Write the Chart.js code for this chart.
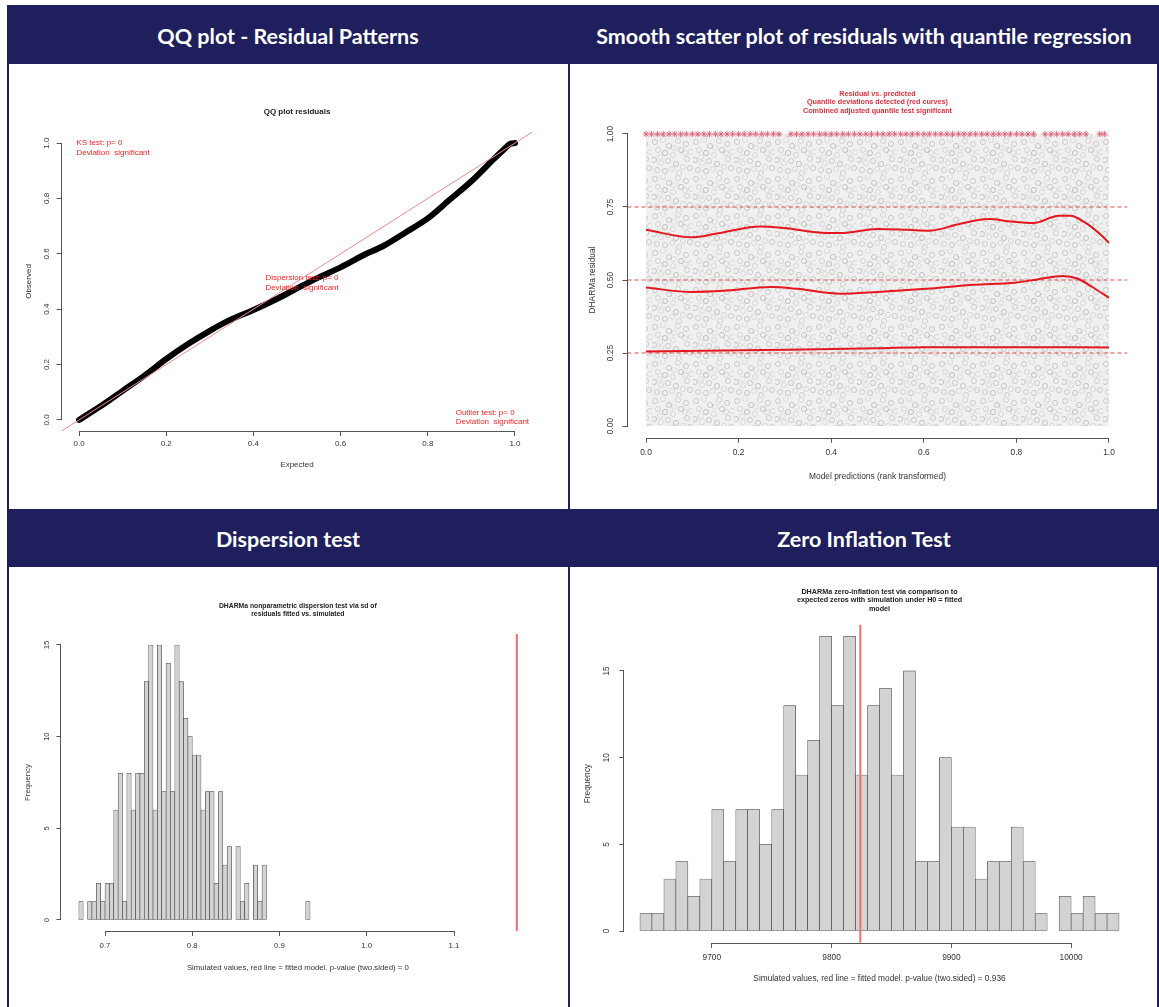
<!DOCTYPE html>
<html>
<head>
<meta charset="utf-8">
<script src="https://cdn.jsdelivr.net/npm/chart.js@4.4.1/dist/chart.umd.min.js"></script>
<style>
  body { margin: 0; width: 1159px; height: 1007px; overflow: hidden; position: relative; background: #fff; }
  .frame { position: absolute; left: 7px; top: 5px; width: 1152px; height: 1002px; background: #1f1f5e; }
  .head { position: absolute; color: #fff; font: bold 21.5px Lato, sans-serif; display: flex; align-items: center; justify-content: center; padding-top: 2px; box-sizing: border-box; }
  .box { position: absolute; background: #fff; }
</style>
</head>
<body>
<div class="frame"></div>
<div class="head" style="left:7px;top:5px;width:562px;height:59px">QQ plot - Residual Patterns</div>
<div class="head" style="left:569px;top:5px;width:590px;height:59px">Smooth scatter plot of residuals with quantile regression</div>
<div class="head" style="left:7px;top:509px;width:562px;height:58px">Dispersion test</div>
<div class="head" style="left:569px;top:509px;width:590px;height:58px">Zero Inflation Test</div>
<div class="box" style="left:9px;top:64px;width:559px;height:445px"><canvas id="qq"></canvas></div>
<div class="box" style="left:570px;top:64px;width:587px;height:445px"><canvas id="resid"></canvas></div>
<div class="box" style="left:9px;top:567px;width:559px;height:440px"><canvas id="disp"></canvas></div>
<div class="box" style="left:570px;top:567px;width:587px;height:440px"><canvas id="zero"></canvas></div>
<script>
// ---- QQ plot residuals
const qqExpected = [0, 0.05, 0.1, 0.15, 0.2, 0.25, 0.3, 0.35, 0.4, 0.45, 0.5, 0.55, 0.6, 0.65, 0.7, 0.75, 0.8, 0.85, 0.9, 0.95, 0.975, 0.99, 1];
const qqObserved = [0, 0.05, 0.105, 0.16, 0.22, 0.274, 0.322, 0.364, 0.397, 0.434, 0.475, 0.515, 0.551, 0.593, 0.63, 0.678, 0.728, 0.795, 0.862, 0.94, 0.978, 0.998, 1];
const unitTicks = [0, 0.2, 0.4, 0.6, 0.8, 1];
const unitLabels = ['0.0', '0.2', '0.4', '0.6', '0.8', '1.0'];

// ---- residual vs predicted
const residCloudX = [0, 1];
const residCloudY = [1, 1];
const outlierX = [0, 0.012, 0.025, 0.037, 0.05, 0.062, 0.075, 0.087, 0.1, 0.112, 0.125, 0.137, 0.15, 0.162, 0.175, 0.187, 0.2, 0.212, 0.225, 0.237, 0.25, 0.262, 0.275, 0.287,
  0.313, 0.325, 0.337, 0.35, 0.362, 0.375, 0.387, 0.4, 0.412, 0.425, 0.437, 0.45, 0.462, 0.475, 0.487, 0.5, 0.512, 0.525, 0.537, 0.55, 0.562, 0.575, 0.587, 0.6, 0.612,
  0.625, 0.637, 0.65, 0.662, 0.675, 0.687, 0.7, 0.712, 0.725, 0.737, 0.75, 0.762, 0.775, 0.787, 0.8, 0.812, 0.825, 0.837, 0.862, 0.875, 0.887, 0.9, 0.912, 0.925,
  0.937, 0.95, 0.98, 0.99];
const q75X = [0, 0.1, 0.15, 0.246, 0.298, 0.39, 0.42, 0.5, 0.565, 0.613, 0.677, 0.741, 0.789, 0.837, 0.892, 0.916, 0.948, 0.98, 1];
const q75Y = [0.672, 0.646, 0.658, 0.683, 0.678, 0.661, 0.661, 0.675, 0.672, 0.669, 0.692, 0.709, 0.7, 0.695, 0.72, 0.72, 0.697, 0.658, 0.627];
const q50X = [0, 0.1, 0.167, 0.27, 0.326, 0.42, 0.5, 0.605, 0.709, 0.797, 0.845, 0.9, 0.932, 0.964, 1];
const q50Y = [0.474, 0.459, 0.463, 0.476, 0.47, 0.453, 0.459, 0.47, 0.484, 0.491, 0.502, 0.514, 0.505, 0.476, 0.439];
const q25X = [0, 0.25, 0.5, 0.6, 0.8, 1];
const q25Y = [0.255, 0.26, 0.266, 0.27, 0.27, 0.269];
const quantileLevels = [0.25, 0.5, 0.75];
const residTicks = [0, 0.25, 0.5, 0.75, 1];
const residLabels = ['0.00', '0.25', '0.50', '0.75', '1.00'];

// ---- dispersion test
const dispBreaks = [0.67, 0.675, 0.68, 0.685, 0.69, 0.695, 0.7, 0.705, 0.71, 0.715, 0.72, 0.725, 0.73, 0.735, 0.74, 0.745, 0.75, 0.755, 0.76, 0.765,
  0.77, 0.775, 0.78, 0.785, 0.79, 0.795, 0.8, 0.805, 0.81, 0.815, 0.82, 0.825, 0.83, 0.835, 0.84, 0.845, 0.85, 0.855, 0.86, 0.865, 0.87, 0.875, 0.88,
  0.885, 0.89, 0.895, 0.9, 0.905, 0.91, 0.915, 0.92, 0.925, 0.93, 0.935];
const dispCounts = [1, 0, 1, 1, 2, 1, 2, 2, 6, 8, 1, 8, 6, 8, 8, 13, 15, 6, 15, 7, 14, 7, 15, 13, 11, 10, 9, 9, 6, 7, 7, 2, 7, 3, 4, 0, 4, 1, 2, 0,
  3, 1, 3, 0, 0, 0, 0, 0, 0, 0, 0, 0, 1];
const dispObserved = 1.172;
const dispTicks = [0.7, 0.8, 0.9, 1.0, 1.1];
const dispLabels = ['0.7', '0.8', '0.9', '1.0', '1.1'];

// ---- zero inflation test
const zeroBreaks = [9640, 9650, 9660, 9670, 9680, 9690, 9700, 9710, 9720, 9730, 9740, 9750, 9760, 9770, 9780, 9790, 9800, 9810, 9820, 9830, 9840,
  9850, 9860, 9870, 9880, 9890, 9900, 9910, 9920, 9930, 9940, 9950, 9960, 9970, 9980, 9990, 10000, 10010, 10020, 10030, 10040];
const zeroCounts = [1, 1, 3, 4, 2, 3, 7, 4, 7, 7, 5, 7, 13, 9, 11, 17, 13, 17, 9, 13, 14, 9, 15, 4, 4, 10, 6, 6, 3, 4, 4, 6, 4, 1, 0, 2, 1, 2, 1, 1];
const zeroObserved = 9824;
const zeroTicks = [9700, 9800, 9900, 10000];
const zeroLabels = ['9700', '9800', '9900', '10000'];

const freqTicks = [0, 5, 10, 15];
const freqLabels = ['0', '5', '10', '15'];

Chart.defaults.font.family = '"Liberation Sans", Arial, sans-serif';
Chart.defaults.animation = false;
Chart.defaults.plugins.legend.display = false;
Chart.defaults.plugins.tooltip.enabled = false;

const AXIS = '#555';
const TXT = '#333';

function rScale(o) {
  const left = o.pos === 'left';
  return {
    type: 'linear', position: o.pos, min: o.min, max: o.max, offset: false,
    afterBuildTicks: s => { s.ticks = o.ticks.map(v => ({ value: v })); },
    afterFit: s => { if (left) s.width = o.size; else s.height = o.size; },
    ticks: {
      autoSkip: false, color: TXT, padding: o.tickPad, font: { size: o.font },
      minRotation: left ? 90 : 0, maxRotation: left ? 90 : 0,
      crossAlign: left ? 'center' : 'near',
      callback: (v, i) => o.labels[i]
    },
    grid: { display: true, offset: false, drawOnChartArea: false, drawTicks: true, tickLength: 5, color: AXIS, tickColor: AXIS },
    border: { display: false },
    title: {
      display: true, text: o.title, color: TXT, font: { size: o.font },
      padding: left ? { top: o.titlePad, bottom: 0 } : { top: 0, bottom: o.titlePad }
    }
  };
}

function plotTitle(text, size, lh, pt, pb, color) {
  return { display: true, text: text, fullSize: false, color: color || '#222',
    font: { size: size, weight: 'bold', lineHeight: lh }, padding: { top: pt, bottom: pb } };
}

// R style axis line, from the first to the last tick
const rAxisLines = {
  id: 'rAxisLines',
  afterDraw(chart) {
    const ctx = chart.ctx;
    ctx.save();
    ctx.strokeStyle = AXIS;
    ctx.lineWidth = 1;
    Object.values(chart.scales).forEach(s => {
      const t = s.ticks;
      if (!t.length) return;
      const a = s.getPixelForValue(t[0].value), b = s.getPixelForValue(t[t.length - 1].value);
      ctx.beginPath();
      if (s.isHorizontal()) {
        const y = Math.round(s.top) + 0.5;
        ctx.moveTo(a, y); ctx.lineTo(b, y);
      } else {
        const x = Math.round(s.right) - 0.5;
        ctx.moveTo(x, a); ctx.lineTo(x, b);
      }
      ctx.stroke();
    });
    ctx.restore();
  }
};

// test results written into the QQ plot
const qqNotes = {
  id: 'qqNotes',
  afterDatasetsDraw(chart) {
    const notes = [
      [-0.006, 1.0, 'KS test: p= 0'], [-0.006, 0.965, 'Deviation  significant'],
      [0.4275, 0.514, 'Dispersion test: p= 0'], [0.4275, 0.479, 'Deviation  significant'],
      [0.864, 0.0265, 'Outlier test: p= 0'], [0.864, -0.007, 'Deviation  significant']
    ];
    const ctx = chart.ctx, x = chart.scales.x, y = chart.scales.y;
    ctx.save();
    ctx.fillStyle = '#f22';
    ctx.font = '8px "Liberation Sans", Arial, sans-serif';
    ctx.textAlign = 'left';
    ctx.textBaseline = 'middle';
    notes.forEach(n => ctx.fillText(n[2], x.getPixelForValue(n[0]), y.getPixelForValue(n[1])));
    ctx.restore();
  }
};

function pts(xs, ys) { return xs.map((v, i) => ({ x: v, y: ys[i] })); }

function histData(breaks, counts) {
  return counts.map((c, i) => ({ x: (breaks[i] + breaks[i + 1]) / 2, y: c }));
}

// texture standing in for the dense cloud of open grey circles
function cloudPattern() {
  const c = document.createElement('canvas');
  c.width = 41; c.height = 37;
  const g = c.getContext('2d');
  g.fillStyle = 'rgba(0,0,0,0.06)';
  g.fillRect(0, 0, 41, 37);
  g.lineWidth = 0.8;
  const rings = [[3, 4, 0.2], [11, 2, 0.12], [17, 8, 0.22], [26, 3, 0.15], [34, 6, 0.2], [39, 14, 0.12], [6, 12, 0.15], [13, 15, 0.25],
    [21, 17, 0.13], [29, 12, 0.22], [35, 21, 0.18], [2, 22, 0.22], [9, 25, 0.12], [16, 23, 0.2], [24, 26, 0.24], [31, 29, 0.13],
    [38, 30, 0.2], [5, 32, 0.18], [13, 33, 0.22], [20, 31, 0.12], [27, 35, 0.17], [22, 10, 0.1], [33, 15, 0.12], [8, 19, 0.1]];
  rings.forEach(p => {
    g.strokeStyle = 'rgba(0,0,0,' + p[2] + ')';
    g.beginPath(); g.arc(p[0], p[1], 2.6, 0, Math.PI * 2); g.stroke();
  });
  return g.createPattern(c, 'repeat');
}

// QQ plot
new Chart(document.getElementById('qq'), {
  type: 'scatter',
  data: {
    datasets: [
      { data: [{ x: -0.04, y: -0.04 }, { x: 1.04, y: 1.04 }], showLine: true, borderColor: '#f08a8a', borderWidth: 1, pointRadius: 0 },
      { data: pts(qqExpected, qqObserved), showLine: true, borderColor: '#000', borderWidth: 6, borderCapStyle: 'round',
        pointRadius: 0, cubicInterpolationMode: 'monotone' }
    ]
  },
  options: {
    responsive: true, maintainAspectRatio: false,
    layout: { padding: { left: 0, right: 35.6, top: 0, bottom: 0 } },
    plugins: { title: plotTitle('QQ plot residuals', 8, 1.2, 43.2, 15.2) },
    scales: {
      x: rScale({ pos: 'bottom', min: -0.04, max: 1.04, ticks: unitTicks, labels: unitLabels, size: 78, tickPad: 2.5, font: 8, title: 'Expected', titlePad: 39.2 }),
      y: rScale({ pos: 'left', min: -0.04, max: 1.04, ticks: unitTicks, labels: unitLabels, size: 52.6, tickPad: 4.5, font: 8, title: 'Observed', titlePad: 15 })
    }
  },
  plugins: [rAxisLines, qqNotes]
});

// residual vs predicted
const dashed = quantileLevels.map(q => ({
  data: [{ x: -0.04, y: q }, { x: 1.04, y: q }], showLine: true, borderColor: '#e24848', borderWidth: 1,
  borderDash: [4, 3], pointRadius: 0
}));
new Chart(document.getElementById('resid'), {
  type: 'scatter',
  data: {
    datasets: [
      { data: pts(q75X, q75Y), showLine: true, borderColor: '#e5161e', borderWidth: 2, pointRadius: 0, cubicInterpolationMode: 'monotone' },
      { data: pts(q50X, q50Y), showLine: true, borderColor: '#e5161e', borderWidth: 2, pointRadius: 0, cubicInterpolationMode: 'monotone' },
      { data: pts(q25X, q25Y), showLine: true, borderColor: '#e5161e', borderWidth: 2, pointRadius: 0, cubicInterpolationMode: 'monotone' },
      ...dashed,
      { data: outlierX.map(v => ({ x: v, y: 1 })), pointStyle: 'star', pointRadius: 3.2, borderColor: '#e0506a', borderWidth: 0.8, backgroundColor: '#e0506a' },
      { data: pts(residCloudX, residCloudY), showLine: true, borderWidth: 0, pointRadius: 0, fill: 'origin', backgroundColor: cloudPattern() }
    ]
  },
  options: {
    responsive: true, maintainAspectRatio: false,
    layout: { padding: { left: 0, right: 29.5, top: 0, bottom: 0 } },
    plugins: { title: plotTitle(['Residual vs. predicted', 'Quantile deviations detected (red curves)', 'Combined adjusted quantile test significant'],
      7.2, 1.153, 25.85, 7.55, '#e0303e') },
    scales: {
      x: rScale({ pos: 'bottom', min: -0.04, max: 1.04, ticks: unitTicks, labels: unitLabels, size: 71.3, tickPad: 5.2, font: 8.4, title: 'Model predictions (rank transformed)', titlePad: 27 }),
      y: rScale({ pos: 'left', min: -0.04, max: 1.04, ticks: residTicks, labels: residLabels, size: 57.5, tickPad: 3.3, font: 8.4, title: 'DHARMa residual', titlePad: 18 })
    }
  },
  plugins: [rAxisLines]
});

// dispersion test
new Chart(document.getElementById('disp'), {
  type: 'bar',
  data: {
    datasets: [
      { type: 'line', data: [{ x: dispObserved, y: -0.6 }, { x: dispObserved, y: 15.6 }], borderColor: '#f36b6b', borderWidth: 2, pointRadius: 0 },
      { data: histData(dispBreaks, dispCounts), backgroundColor: '#d3d3d3', borderColor: '#3a3a3a', borderWidth: 0.6,
        borderSkipped: false, barPercentage: 1, categoryPercentage: 1 }
    ]
  },
  options: {
    responsive: true, maintainAspectRatio: false,
    layout: { padding: { left: 0, right: 33.7, top: 0, bottom: 0 } },
    plugins: { title: plotTitle(['DHARMa nonparametric dispersion test via sd of', 'residuals fitted vs. simulated'], 6.8, 1.176, 35, 16) },
    scales: {
      x: rScale({ pos: 'bottom', min: 0.65, max: 1.192, ticks: dispTicks, labels: dispLabels, size: 76, tickPad: 5.3, font: 7.8,
        title: 'Simulated values, red line = fitted model. p-value (two.sided) = 0', titlePad: 34.3 }),
      y: rScale({ pos: 'left', min: -0.6, max: 15.6, ticks: freqTicks, labels: freqLabels, size: 52.4, tickPad: 5, font: 7.8, title: 'Frequency', titlePad: 14.3 })
    }
  },
  plugins: [rAxisLines]
});

// zero inflation test
new Chart(document.getElementById('zero'), {
  type: 'bar',
  data: {
    datasets: [
      { type: 'line', data: [{ x: zeroObserved, y: -0.68 }, { x: zeroObserved, y: 17.68 }], borderColor: '#f36b6b', borderWidth: 2, pointRadius: 0 },
      { data: histData(zeroBreaks, zeroCounts), backgroundColor: '#d3d3d3', borderColor: '#3a3a3a', borderWidth: 0.6,
        borderSkipped: false, barPercentage: 1, categoryPercentage: 1 }
    ]
  },
  options: {
    responsive: true, maintainAspectRatio: false,
    layout: { padding: { left: 0, right: 22.4, top: 0, bottom: 0 } },
    plugins: { title: plotTitle(['DHARMa zero-inflation test via comparison to', 'expected zeros with simulation under H0 = fitted', 'model'], 7.2, 1.18, 20.75, 11.25) },
    scales: {
      x: rScale({ pos: 'bottom', min: 9627, max: 10053, ticks: zeroTicks, labels: zeroLabels, size: 64.2, tickPad: 5.2, font: 8.3,
        title: 'Simulated values, red line = fitted model. p-value (two.sided) = 0.936', titlePad: 23 }),
      y: rScale({ pos: 'left', min: -0.68, max: 17.68, ticks: freqTicks, labels: freqLabels, size: 54.4, tickPad: 8.5, font: 8.3, title: 'Frequency', titlePad: 13 })
    }
  },
  plugins: [rAxisLines]
});
</script>
</body>
</html>
